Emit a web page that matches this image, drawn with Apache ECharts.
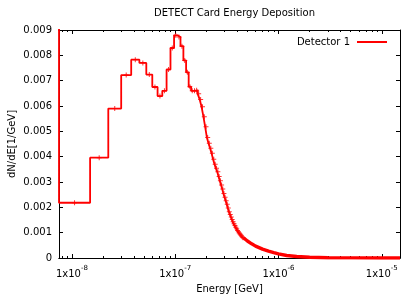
<!DOCTYPE html>
<html><head><meta charset="utf-8">
<script src="https://cdn.jsdelivr.net/npm/echarts@6/dist/echarts.min.js"></script>
<style>html,body{margin:0;padding:0;background:#fff}#c{width:412px;height:298px}</style>
</head><body><div id="c"></div>
<script>
// Linear energy bins of 7.5e-9 GeV, values of dN/dE per bin (bin 0 starts at 0)
const binWidth = 7.5e-9;
const binValues = [
  0.0125, 0.00218, 0.00396, 0.00590, 0.00722, 0.00783, 0.00770, 0.00724, 0.00675, 0.00639,
  0.00660, 0.00744, 0.00829, 0.00879, 0.00872, 0.00836, 0.00780, 0.00733, 0.00676, 0.00660,
  0.00660, 0.00662, 0.00648, 0.00626, 0.00597, 0.00558, 0.00518, 0.00476, 0.00453, 0.00433,
  0.00413, 0.00390, 0.00370, 0.00354, 0.00340, 0.00322, 0.00305, 0.00288, 0.00272, 0.00255,
  0.00240, 0.00226, 0.00212, 0.00197, 0.00183, 0.00172, 0.00162, 0.00152, 0.00143, 0.00135,
  0.00128, 0.00121, 0.00115, 0.00109, 0.00104, 0.00099, 0.00095, 0.00091, 0.00087, 0.00083,
  0.00080
];
// Tail, where bins are narrower than a pixel
const tailEnergy = [4.575e-7, 5e-7, 5.5e-7, 6e-7, 7e-7, 8e-7, 9e-7, 1e-6, 1.2e-6, 1.5e-6, 2e-6, 3e-6, 5e-6, 1e-5, 1.5e-5];
const tailValues = [0.00080, 0.00067, 0.00056, 0.00047, 0.00035, 0.00027, 0.00021, 0.00016, 0.00010, 0.00006, 0.00003, 0.00001, 0.000003, 0.000001, 0];

const xMin = 7.5e-9, xMax = 1.5e-5;
const xMajorTicks = [1e-8, 1e-7, 1e-6, 1e-5];
const minorMult = [2, 3, 4, 5, 6, 7, 8, 9];
const minorDecades = [1e-9, 1e-8, 1e-7, 1e-6, 1e-5];
const yTickLabels = ['0','0.001','0.002','0.003','0.004','0.005','0.006','0.007','0.008','0.009'];

const xMinorTicks = [];
minorDecades.forEach(d => minorMult.forEach(m => { const v = m * d; if (v > xMin && v < xMax) xMinorTicks.push(v); }));

const stepData = binValues.map((v, i) => [(i === 0 ? 0.5 : i) * binWidth, v]);
stepData.push([binValues.length * binWidth, binValues[binValues.length - 1]]);
const markData = binValues.slice(1).map((v, j) => { const i = j + 1; return [Math.sqrt(i * (i + 1)) * binWidth, v]; });
const tailData = tailEnergy.map((e, i) => [e, tailValues[i]]);

const FONT = 'DejaVu Sans';
const black = '#000';
function xAx(pos, ticks, len, labels) {
  return {
    type: 'log', logBase: 10, min: xMin, max: xMax, position: pos, gridIndex: 0,
    axisLine: { show: true, lineStyle: { color: black, width: 1 } },
    axisTick: { show: true, inside: true, length: len, customValues: ticks, lineStyle: { color: black } },
    axisLabel: labels ? {
      show: true, customValues: xMajorTicks, margin: 7, color: black, fontFamily: FONT, fontSize: 10,
      formatter: v => '{b|1x10}{s|' + Math.round(Math.log10(v)) + '}',
      rich: { b: { fontSize: 10, fontFamily: FONT, color: black, verticalAlign: 'bottom', lineHeight: 14 },
              s: { fontSize: 7, fontFamily: FONT, color: black, verticalAlign: 'top', lineHeight: 14 } }
    } : { show: false },
    splitLine: { show: false }, minorTick: { show: false },
    name: labels && pos === 'bottom' ? 'Energy [GeV]' : '',
    nameLocation: 'middle', nameGap: 26,
    nameTextStyle: { fontFamily: FONT, fontSize: 10, color: black }
  };
}
function yAx(pos, labels) {
  return {
    type: 'value', min: 0, max: 0.009, interval: 0.001, position: pos,
    axisLine: { show: true, lineStyle: { color: black, width: 1 } },
    axisTick: { show: true, inside: true, length: 4, lineStyle: { color: black } },
    axisLabel: labels ? { show: true, margin: 7, color: black, fontFamily: FONT, fontSize: 10,
      formatter: (v) => yTickLabels[Math.round(v / 0.001)] } : { show: false },
    splitLine: { show: false },
    name: labels ? 'dN/dE[1/GeV]' : '', nameLocation: 'middle', nameRotate: 90, nameGap: 42,
    nameMoveOverlap: false,
    nameTextStyle: { fontFamily: FONT, fontSize: 10, color: black }
  };
}

const chart = echarts.init(document.getElementById('c'), null, { renderer: 'canvas' });
chart.setOption({
  animation: false,
  backgroundColor: '#fff',
  title: { text: 'DETECT Card Energy Deposition', left: 229.5, top: 3, textAlign: 'center',
    textStyle: { fontFamily: FONT, fontSize: 10, fontWeight: 'normal', color: black } },
  grid: { left: 59, right: 12, top: 30, bottom: 40, containLabel: false, outerBoundsMode: 'none' },
  legend: { right: 20, top: 32, itemWidth: 30, itemHeight: 2, itemGap: 7, align: 'right',
    data: [{ name: 'Detector 1', icon: 'path://M0,0H30V2H0Z' }],
    textStyle: { fontFamily: FONT, fontSize: 10, color: black, padding: [0, 2, 0, 0] }, selectedMode: false },
  xAxis: [xAx('bottom', xMajorTicks, 4, true), xAx('bottom', xMinorTicks, 2, false),
          xAx('top', xMajorTicks, 4, false), xAx('top', xMinorTicks, 2, false)],
  yAxis: [yAx('left', true), yAx('right', false)],
  series: [
    { name: 'Detector 1', type: 'line', step: 'end', data: stepData, xAxisIndex: 0, yAxisIndex: 0,
      showSymbol: false, lineStyle: { color: '#ff0000', width: 1.8 }, itemStyle: { color: '#ff0000' }, clip: true },
    { name: 'tail', type: 'line', data: tailData, xAxisIndex: 0, yAxisIndex: 0, smooth: false,
      showSymbol: false, lineStyle: { color: '#ff0000', width: 3.4 }, clip: true },
    { name: 'err', type: 'scatter', data: markData, xAxisIndex: 0, yAxisIndex: 0,
      symbol: 'path://M4,0H6V4H10V6H6V10H4V6H0V4H4Z', symbolSize: 5,
      itemStyle: { color: '#ff0000' }, clip: true }
  ]
});
</script></body></html>
